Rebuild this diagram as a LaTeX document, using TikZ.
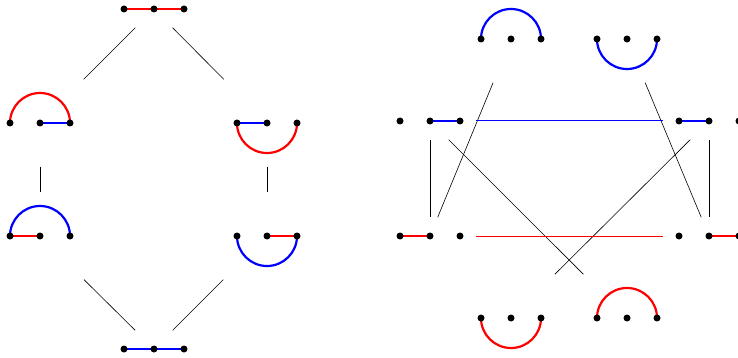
\documentclass[tikz,border=0pt]{standalone}
\usetikzlibrary{positioning}

\begin{document}
\begin{tikzpicture}[
    x=1pt, y=1pt,
    state/.style={
        rectangle,
        inner sep=0pt,
        minimum width=92pt,
        minimum height=37pt,
    },
    tall/.style={
        state,
        minimum height=87pt,
    },
    redpart/.style={red, line width=2.2pt},
    bluepart/.style={blue, line width=2.2pt},
    link/.style={line width=0.6pt},
    chord/.style={line width=1pt},
]
\useasboundingbox (0,0) rectangle (738,-358);

% left diagram
\node[state] (top)    at (154,-9)   {};
\node[tall]  (left1)  at (40,-123)  {};
\node[tall]  (right1) at (267,-123) {};
\node[tall]  (left2)  at (40,-236)  {};
\node[tall]  (right2) at (267,-236) {};
\node[state] (bottom) at (154,-349) {};

% right diagram
\node[tall]  (capA)   at (511,-39)  {};
\node[tall]  (cupA)   at (627,-39)  {};
\node[state] (westB)  at (430,-121) {};
\node[state] (eastB)  at (709,-121) {};
\node[state] (westR)  at (430,-236) {};
\node[state] (eastR)  at (709,-236) {};
\node[tall]  (cupR)   at (511,-318) {};
\node[tall]  (capR)   at (627,-318) {};

% strands
\draw[redpart] ([xshift=-30pt]top.center) -- ([xshift=30pt]top.center);
\draw[redpart] ([xshift=-30pt]left1.center) arc[start angle=180, end angle=0, radius=30pt];
\draw[bluepart] (left1.center) -- ([xshift=30pt]left1.center);
\draw[bluepart] ([xshift=-30pt]right1.center) -- (right1.center);
\draw[redpart] ([xshift=-30pt]right1.center) arc[start angle=180, end angle=360, radius=30pt];
\draw[bluepart] ([xshift=-30pt]left2.center) arc[start angle=180, end angle=0, radius=30pt];
\draw[redpart] ([xshift=-30pt]left2.center) -- (left2.center);
\draw[redpart] (right2.center) -- ([xshift=30pt]right2.center);
\draw[bluepart] ([xshift=-30pt]right2.center) arc[start angle=180, end angle=360, radius=30pt];
\draw[bluepart] ([xshift=-30pt]bottom.center) -- ([xshift=30pt]bottom.center);

\draw[bluepart] ([xshift=-30pt]capA.center) arc[start angle=180, end angle=0, radius=30pt];
\draw[bluepart] ([xshift=-30pt]cupA.center) arc[start angle=180, end angle=360, radius=30pt];
\draw[bluepart] (westB.center) -- ([xshift=30pt]westB.center);
\draw[bluepart] ([xshift=-30pt]eastB.center) -- (eastB.center);
\draw[redpart] ([xshift=-30pt]westR.center) -- (westR.center);
\draw[redpart] (eastR.center) -- ([xshift=30pt]eastR.center);
\draw[redpart] ([xshift=-30pt]cupR.center) arc[start angle=180, end angle=360, radius=30pt];
\draw[redpart] ([xshift=-30pt]capR.center) arc[start angle=180, end angle=0, radius=30pt];

\foreach \n in {top,left1,right1,left2,right2,bottom,capA,cupA,westB,eastB,westR,eastR,cupR,capR}
    \foreach \dx in {-30,0,30}
        \fill ([xshift=\dx pt]\n.center) circle (3.5pt);

% connectors
\draw[link] (top) -- (left1);
\draw[link] (top) -- (right1);
\draw[link] (left1) -- (left2);
\draw[link] (right1) -- (right2);
\draw[link] (left2) -- (bottom);
\draw[link] (right2) -- (bottom);

\draw[link] (westB) -- (westR);
\draw[link] (capA) -- (westR);
\draw[link] (westB) -- (capR);
\draw[link] (eastB) -- (cupR);
\draw[link] (cupA) -- (eastR);
\draw[link] (eastB) -- (eastR);
\draw[chord, blue] (westB) -- (eastB);
\draw[chord, red] (westR) -- (eastR);

\end{tikzpicture}
\end{document}
